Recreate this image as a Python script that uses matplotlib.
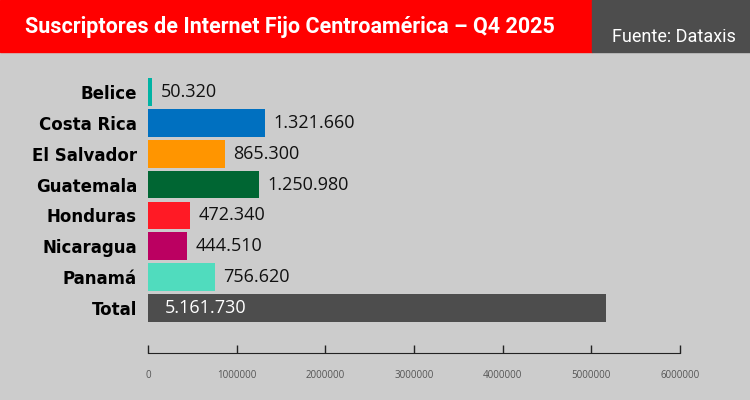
import matplotlib.pyplot as plt
from matplotlib.patches import Rectangle

# --- Datos ---
paises = ["Belice", "Costa Rica", "El Salvador", "Guatemala", "Honduras",
          "Nicaragua", "Panamá", "Total"]
suscriptores = [50320, 1321660, 865300, 1250980, 472340, 444510, 756620, 5161730]
colores = ["#00b3a4", "#0070c0", "#ff9500", "#006633", "#ff1a25",
           "#bb0061", "#50dcbe", "#4d4d4d"]
ticks_x = [0, 1000000, 2000000, 3000000, 4000000, 5000000, 6000000]

titulo = "Suscriptores de Internet Fijo Centroamérica – Q4 2025"
fuente = "Fuente: Dataxis"


def formato(v):
    # separador de miles con punto
    return f"{v:,}".replace(",", ".")


fig = plt.figure(figsize=(7.5, 4), dpi=100, facecolor="#cccccc")

# --- Encabezado ---
fig.patches.append(Rectangle((0, 1 - 52 / 400), 592 / 750, 52 / 400,
                             transform=fig.transFigure, color="#ff0000", zorder=0))
fig.patches.append(Rectangle((592 / 750, 1 - 52 / 400), 158 / 750, 52 / 400,
                             transform=fig.transFigure, color="#4d4d4d", zorder=0))
fig.text(25 / 750, 1 - 27 / 400, titulo, color="white", fontsize=15.5,
         fontweight="bold", family="Roboto", va="center", ha="left")
fig.text(612 / 750, 1 - 37 / 400, fuente, color="white", fontsize=13,
         family="Roboto", va="center", ha="left")

# --- Grafico ---
ax = fig.add_axes([148 / 750, 47 / 400, 532 / 750, 278 / 400])
ax.set_facecolor("#cccccc")
pos = list(range(len(paises)))
ax.barh(pos, suscriptores, height=0.9, color=colores)
ax.set_ylim(8.46, -0.55)
ax.set_xlim(0, 6000000)

for i, v in enumerate(suscriptores):
    if paises[i] == "Total":
        ax.annotate(formato(v), (0, i), xytext=(12, 0), textcoords="offset points",
                    va="center", ha="left", fontsize=13, color="white",
                    family="Open Sans")
    else:
        ax.annotate(formato(v), (v, i), xytext=(6, 0), textcoords="offset points",
                    va="center", ha="left", fontsize=13, color="#111111",
                    family="Open Sans")

ax.set_yticks(pos)
ax.set_yticklabels(paises, fontsize=12, fontweight="bold", family="DejaVu Sans")
ax.tick_params(axis="y", length=0, pad=8)

ax.set_xticks(ticks_x)
ax.set_xticklabels([str(t) for t in ticks_x], fontsize=7, color="#555555",
                   family="Open Sans")
ax.tick_params(axis="x", direction="in", length=6, width=1, color="#222222", pad=12)

for s in ["top", "right", "left"]:
    ax.spines[s].set_visible(False)
ax.spines["bottom"].set_color("#222222")

fig.savefig("out.png", dpi=100, facecolor=fig.get_facecolor())
